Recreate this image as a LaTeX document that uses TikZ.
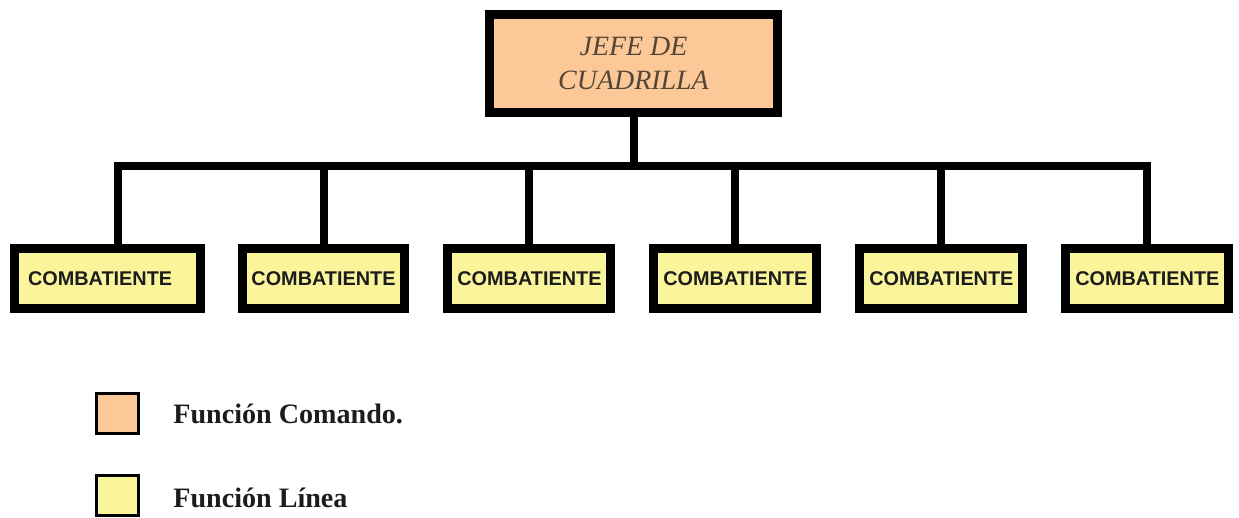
\documentclass[tikz,border=0pt]{standalone}
\usepackage{fontspec}
\setmainfont{Liberation Serif}
\setsansfont{Liberation Sans}
\usepackage[dvipsnames]{xcolor}
\definecolor{peach}{HTML}{FCC898}
\definecolor{paleyellow}{HTML}{FAF59A}
\definecolor{jefetext}{HTML}{524638}
\definecolor{inktext}{HTML}{1C1C1C}

\begin{document}
\begin{tikzpicture}[x=0.02cm,y=-0.02cm,node distance=4.12cm,
    jefe node/.style={draw,line width=0.18cm,fill=peach,minimum width=5.76cm,minimum height=1.96cm,align=center,text=jefetext,font=\fontsize{15.9}{19.8}\selectfont\itshape},
    comb node/.style={draw,line width=0.18cm,fill=paleyellow,minimum width=3.26cm,minimum height=1.2cm,inner sep=0pt,text=inktext,font=\fontsize{11.3}{13}\selectfont\sffamily\bfseries},
    key node/.style={draw,line width=0.06cm,minimum width=0.84cm,minimum height=0.8cm,inner sep=0pt},
    key text/.style={anchor=base west,inner sep=0pt,text=inktext,font=\fontsize{16}{19}\selectfont\bfseries},
    org line/.style={line width=0.16cm}]
    \useasboundingbox (0,0) rectangle (1239,517);

    \node[jefe node] (jefe) at (633.5,63.5) {JEFE DE\\CUADRILLA};
    \node[comb node] (c2) at (323.5,278.5) {COMBATIENTE};
    \node[comb node,inner xsep=0.27cm,text width=3.18cm,align=left] (c1) [left of=c2,node distance=4.32cm] {COMBATIENTE};
    \node[comb node] (c3) [right of=c2] {COMBATIENTE};
    \node[comb node] (c4) [right of=c3] {COMBATIENTE};
    \node[comb node] (c5) [right of=c4] {COMBATIENTE};
    \node[comb node] (c6) [right of=c5] {COMBATIENTE};

    % lineas de mando
    \coordinate (bus) at (632,166);
    \draw[org line] (jefe.south) -- (jefe.south |- bus);
    \draw[org line] ([xshift=0.21cm]c1.north) |- (bus) -| (c6.north);
    \foreach \n in {2,...,5}
        \draw[org line] (c\n.north) -- (c\n.north |- bus);

    % leyenda
    \node[key node,fill=peach] (k1) at (117.5,413.5) {};
    \node[key node,fill=paleyellow] (k2) at (117.5,495.5) {};
    \node[key text] (t1) at (173,423) {Función Comando.};
    \node[key text] (t2) at (173,507) {Función Línea};
\end{tikzpicture}
\end{document}
